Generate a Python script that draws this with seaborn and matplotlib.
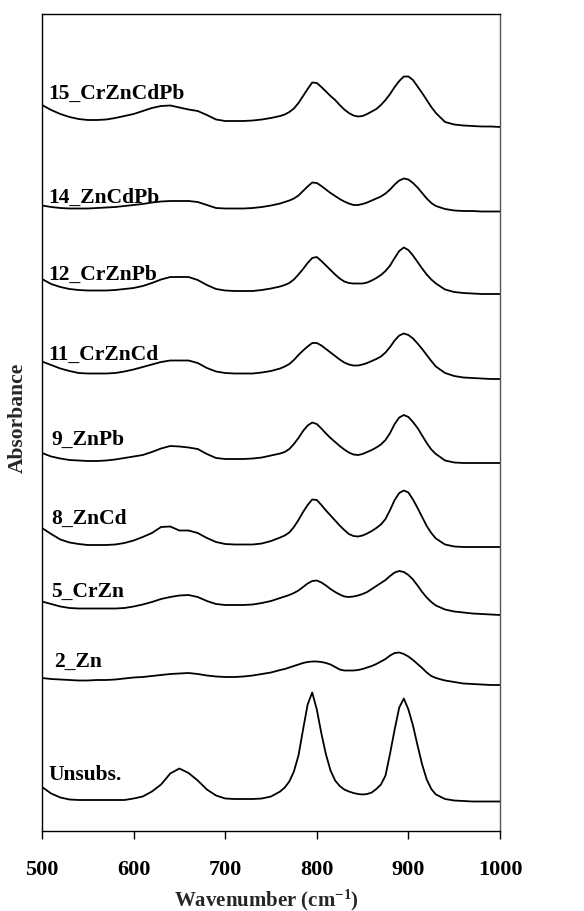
import matplotlib
matplotlib.use("Agg")
import matplotlib.pyplot as plt
import numpy as np
import pandas as pd
import seaborn as sns

# Shared wavenumber grid (cm^-1); finer spacing across the two main bands
wavenumber = [500, 510, 520, 530, 540, 550, 560, 570, 580, 590, 600, 610, 620,
              630, 640, 650, 660, 670, 680, 690, 700, 710, 720, 730, 740, 750,
              760, 765, 770, 775, 780, 785, 790, 795, 800, 805, 810, 815, 820,
              825, 830, 835, 840, 845, 850, 855, 860, 865, 870, 875, 880, 885,
              890, 895, 900, 905, 910, 915, 920, 925,
              930, 940, 950, 960, 970, 980, 990, 1000]

# Sample names, bottom to top
samples = ["Unsubs.", "2_Zn", "5_CrZn", "8_ZnCd", "9_ZnPb",
           "11_CrZnCd", "12_CrZnPb", "14_ZnCdPb", "15_CrZnCdPb"]

# Vertical offset of each spectrum in the stack (arb. units)
offsets = [29.5, 146, 216, 284, 368, 452, 537, 619.5, 704]

# Absorbance of each sample above its own high-wavenumber baseline (arb. units)
unsubs = [14.5, 8, 4, 2, 1.5, 1.5, 1.5, 1.5, 1.5, 1.5, 3, 5, 10,
          17, 28, 33, 28.5, 21, 12, 6, 3, 2.5, 2.5, 2.5, 3, 5,
          10, 14, 20, 30, 46, 72, 97, 109, 92, 68, 47, 31, 21,
          15.5, 12, 10, 8.5, 7.5, 7, 7.5, 9, 12.5, 17, 26, 48, 72,
          94, 103, 92, 76, 56, 37, 22, 12.5,
          7, 2.5, 1, 0.5, 0, 0, 0, 0]
zn2 = [7, 6, 5.5, 5, 4.5, 4.5, 5, 5, 5.5, 6.5, 7.5, 8, 9,
       10, 11, 11.5, 12, 11, 9.5, 8.5, 8, 8, 8.5, 9.5, 11, 12.5,
       15, 16, 17.5, 19, 20.5, 22, 23, 23.5, 23.5, 23, 22, 20.5, 18,
       15.5, 14.5, 14.5, 14.5, 15, 16, 17.5, 19, 21, 23.5, 26, 29.5, 32,
       32.5, 31, 28.5, 25, 21, 17, 12.5, 9,
       7, 4.5, 3, 1.5, 1, 0.5, 0, 0]
crzn5 = [13.5, 11, 8.5, 7, 6.5, 6.5, 6.5, 6.5, 6.5, 7, 8.5, 10.5, 13,
         16, 18, 19.5, 20, 18, 14, 11, 10, 10, 10, 10.5, 12, 14,
         17, 18.5, 20, 22, 24.5, 28, 31.5, 34, 34.5, 32.5, 29.5, 26, 23,
         20.5, 18.5, 18, 18.5, 19.5, 21, 23, 26, 29, 32, 35, 39, 42.5,
         44, 43, 40, 35.5, 29.5, 23, 17.5, 13,
         9.5, 5.5, 3.5, 2.5, 1.5, 1, 0.5, 0]
zncd8 = [19, 13, 7.5, 4.5, 3, 2, 2, 2, 2.5, 4, 6.5, 10, 14,
         20, 20.5, 16.5, 16.5, 14, 9, 5, 3, 2.5, 2.5, 2.5, 3.5, 6,
         9.5, 11.5, 14.5, 20, 27, 35, 42, 47.5, 47, 42, 36.5, 31.5, 26.5,
         21.5, 17, 13, 11, 10.5, 11.5, 13.5, 16, 19, 22.5, 28, 37, 47,
         54, 56.5, 54.5, 47.5, 39, 30, 21, 14,
         8.5, 2.5, 0.5, 0, 0, 0, 0, 0]
znpb9 = [10, 6.5, 4.5, 3, 2.5, 2, 2, 2.5, 3.5, 5, 6.5, 8, 11,
         14.5, 17, 16.5, 15.5, 14, 9, 5, 4, 4, 4, 4.5, 5.5, 7.5,
         9.5, 11, 14, 19, 25, 32, 37.5, 40.5, 39, 34.5, 29.5, 25, 21,
         17, 13.5, 10.5, 8.5, 8, 9, 11, 13, 15.5, 18.5, 23, 30, 39,
         45.5, 48, 46, 41, 35, 27.5, 20, 13.5,
         9, 2.5, 0.5, 0, 0, 0, 0, 0]
crzncd11 = [17.5, 14, 10.5, 8, 6, 5.5, 5.5, 5.5, 6, 7.5, 9.5, 12, 14.5,
            17, 18.5, 18.5, 18.5, 16, 11, 7.5, 6, 5.5, 5.5, 5.5, 6.5, 8,
            10.5, 12.5, 15, 19, 24, 28.5, 32.5, 36, 36, 33.5, 30, 26.5, 23,
            19.5, 16.5, 14.5, 13.5, 13.5, 14.5, 16, 18, 20, 22.5, 26.5, 32, 38.5,
            43.5, 45.5, 44, 40.5, 35.5, 30, 24, 18,
            12.5, 6, 3, 1.5, 1, 0.5, 0, 0]
crznpb12 = [15, 10, 7, 5, 4, 3.5, 3.5, 3.5, 4, 5, 6, 8, 11,
            14.5, 17, 17, 17, 14, 9, 5, 3.5, 3, 3, 3, 4, 5.5,
            7.5, 9, 11, 14.5, 19.5, 25, 31, 36, 37, 33, 28.5, 24, 19.5,
            15.5, 12.5, 11, 10.5, 10.5, 10.5, 11.5, 13.5, 16, 19, 23, 28.5, 36,
            43, 46.5, 44, 38.5, 32, 25.5, 19.5, 14.5,
            10.5, 4.5, 2, 1, 0.5, 0, 0, 0]
zncdpb14 = [6, 4.5, 3.5, 3, 3, 3, 3.5, 4, 4.5, 5.5, 6.5, 7.5, 9,
            10, 10.5, 10.5, 10.5, 9.5, 6.5, 3.5, 3, 3, 3, 3.5, 4.5, 6,
            8, 9.5, 11, 13, 16, 20.5, 25, 29, 28.5, 25.5, 22, 18.5, 15.5,
            12.5, 10, 8, 6.5, 6.5, 7.5, 9, 11, 13, 15, 18, 22, 27,
            31, 33, 32, 28.5, 24, 18.5, 13, 8.5,
            5.5, 2.5, 1, 0.5, 0.5, 0, 0, 0]
crzncdpb15 = [22, 17, 13, 10, 8, 7, 7, 7.5, 9, 11, 13, 16, 19,
              21, 21.5, 19.5, 17.5, 16, 12, 7.5, 6, 6, 6, 6.5, 7.5, 9,
              11, 12.5, 15, 18.5, 24, 31, 38, 44.5, 44, 40, 35.5, 31, 27,
              22, 17.5, 14, 11.5, 10.5, 11, 13, 15.5, 18, 22, 27, 33, 40,
              46, 50.5, 50.5, 47, 40.5, 34, 27, 20,
              14, 5, 2.5, 1.5, 1, 0.5, 0.5, 0]

spectra = [unsubs, zn2, crzn5, zncd8, znpb9, crzncd11, crznpb12, zncdpb14, crzncdpb15]

# Label anchor (wavenumber, stacked height) for each sample name
label_x = [507, 513, 510, 510, 510, 507, 507, 507, 507]
label_y = [52, 165, 235, 308, 387, 472, 552, 629, 733]

frames = []
for name, off, spec in zip(samples, offsets, spectra):
    frames.append(pd.DataFrame({
        "wavenumber": wavenumber,
        "signal": np.asarray(spec, dtype=float) + off,
        "sample": name,
    }))
df = pd.concat(frames, ignore_index=True)

sns.set_style("white")
plt.rcParams["font.family"] = ["Liberation Serif", "DejaVu Serif"]
plt.rcParams["font.weight"] = "bold"
plt.rcParams["mathtext.default"] = "regular"

fig = plt.figure(figsize=(5.84, 9.12), dpi=100)
ax = fig.add_axes([42 / 584, 80 / 912, 458 / 584, 817 / 912])

sns.lineplot(data=df, x="wavenumber", y="signal", units="sample",
             estimator=None, sort=False, color="black", linewidth=1.3,
             legend=False, ax=ax)

for name, lx, ly in zip(samples, label_x, label_y):
    ax.text(lx, ly, name, fontsize=15.5, fontweight="bold",
            ha="left", va="baseline", color="black")

ax.set_xlim(500, 1000)
ax.set_ylim(0, 817)
ax.set_xticks([500, 600, 700, 800, 900, 1000])
ax.set_yticks([])
ax.tick_params(axis="x", direction="out", length=6, width=1, pad=14,
               labelsize=16, bottom=True, colors="black")
for lab in ax.get_xticklabels():
    lab.set_fontweight("bold")

for side in ["left", "bottom", "top"]:
    ax.spines[side].set_color("black")
    ax.spines[side].set_linewidth(1.0)
ax.spines["right"].set_color("#555555")
ax.spines["right"].set_linewidth(1.0)

ax.set_xlabel(r"Wavenumber (cm$^{-1}$)", fontsize=15, fontweight="bold")
ax.xaxis.set_label_coords(0.49, -0.068)
ax.set_ylabel("Absorbance", fontsize=15.5, fontweight="bold")
ax.yaxis.set_label_coords(-0.03, 0.507)

fig.savefig("out.png", dpi=100, facecolor="white")
